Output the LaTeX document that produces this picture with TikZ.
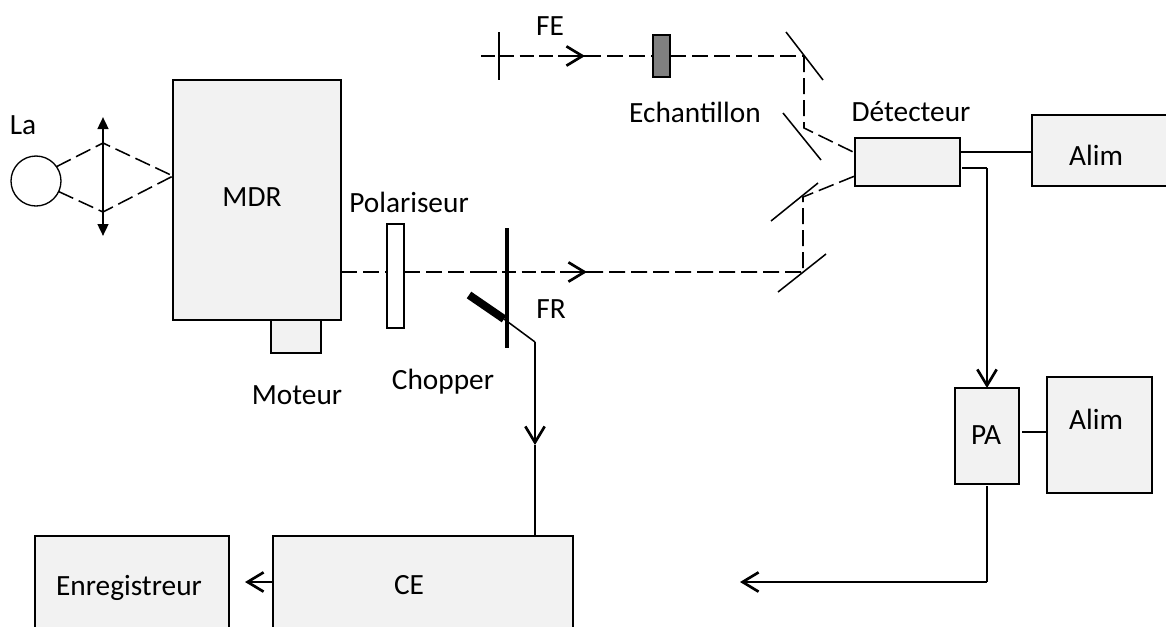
\documentclass[tikz,border=0pt]{standalone}
\usepackage{fontspec}
\setmainfont{Carlito}
\usetikzlibrary{arrows.meta,calc}
\definecolor{boxfill}{HTML}{F2F2F2}
\definecolor{samplefill}{HTML}{808080}
% \boxat[style]{name}{x1}{y1}{x2}{y2}
\newcommand{\boxat}[6][boxst]{%
  \pgfmathsetmacro{\bw}{(#5-#3)*0.75}\pgfmathsetmacro{\bh}{(#6-#4)*0.75}%
  \pgfmathsetmacro{\bx}{(#3+#5)/2}\pgfmathsetmacro{\by}{(#4+#6)/2}%
  \node[#1,minimum width=\bw pt,minimum height=\bh pt] (#2) at (\bx,\by) {};}
\tikzset{
  boxst/.style={draw=black,fill=boxfill,line width=1.1pt,inner sep=0pt,outer sep=0pt},
  whitebox/.style={boxst,fill=white},
  samplebox/.style={boxst,fill=samplefill},
  lab/.style={font=\fontsize{22}{24}\selectfont,inner sep=0pt,text=black},
  beam/.style={line width=1.15pt,dash pattern=on 12pt off 4.5pt},
  beamthick/.style={line width=1.9pt,dash pattern=on 10.5pt off 4pt},
  wire/.style={line width=1.15pt},
  wirethick/.style={line width=1.9pt},
  mirror/.style={line width=1.15pt},
  openarrow/.style={-{Straight Barb[length=12pt,width=14.5pt,line width=2pt]}},
}
\begin{document}
\begin{tikzpicture}[x=0.75pt,y=-0.75pt]
\clip (0,0) rectangle (1166,626);
\fill[white] (0,0) rectangle (1166,626);

% Beam points
\coordinate (focus) at (173,176);
\coordinate (lensT) at (103,143);
\coordinate (lensB) at (103,212);
\coordinate (lensTop) at (103,117);
\coordinate (lensBot) at (103,236);
\coordinate (feA) at (481,56);
\coordinate (feTip) at (585,56);
\coordinate (m1) at (804,56);
\coordinate (m2) at (804,128);
\coordinate (m3) at (803,197);
\coordinate (m4) at (803,272);
\coordinate (frA) at (483,272);
\coordinate (frTip) at (587,272);

% Boxes
\boxat{mdr}{173}{80}{341}{320}
\boxat{moteur}{271}{320}{321}{353}
\boxat[whitebox]{pol}{387}{224}{404}{328}
\boxat[samplebox]{ech}{653}{35}{670}{77}
\boxat{det}{855}{138}{960}{186}
\boxat{alimA}{1032}{115}{1175}{186}
\boxat{pa}{955}{388}{1019}{484}
\boxat{alimB}{1047}{377}{1152}{493}
\boxat{ce}{273}{536}{573}{650}
\boxat{enr}{35}{536}{229}{650}

\node[draw=black,fill=white,circle,line width=1pt,minimum size=37.5pt,inner sep=0pt,outer sep=0pt] (lamp) at (36,181) {};

% Lens
\draw[line width=1.8pt,{Triangle[length=9pt,width=8pt]}-{Triangle[length=9pt,width=8pt]}] (lensTop) -- (lensBot);
\draw[beam] (lamp.35) -- (lensT) -- (focus);
\draw[beam] (lamp.-25) -- (lensB) -- (focus);

% Sample beam
\draw[mirror] (499,32) coordinate (feTT) -- (499,80) coordinate (feTB);
\draw[beamthick] (feA) -- (feTip);
\draw[openarrow,line width=1.7pt] ($(feTip)+(-18,0)$) -- (feTip);
\draw[beam] (feTip) -- (ech.west);
\draw[beam] (ech.east) -- (m1);
\draw[mirror] (786,32) coordinate (mir1a) -- (823,80) coordinate (mir1b);
\draw[beam] (m1) -- (m2) -- ($(det.north west)!0.31!(det.south west)$);
\draw[mirror] (783,113) coordinate (mir2a) -- (821,160) coordinate (mir2b);

% Reference beam
\draw[beam] (mdr.east |- m4) -- (pol.west |- m4);
\draw[beam] (pol.east |- m4) -- (frA);
\draw[beamthick] (frA) -- (frTip);
\draw[openarrow,line width=1.7pt] ($(frTip)+(-18,0)$) -- (frTip);
\draw[beam] (frTip) -- (m4) -- (m3) -- ($(det.north west)!0.79!(det.south west)$);
\draw[mirror] (778,292) coordinate (mir4a) -- (826,254) coordinate (mir4b);
\draw[mirror] (771,221) coordinate (mir3a) -- (818,183) coordinate (mir3b);

% Chopper
\draw[line width=3.6pt] (507,228) coordinate (chT) -- (507,348) coordinate (chB);
\coordinate (blA) at (469,295);
\coordinate (blB) at (504,319);
\coordinate (elbow) at (535,342);
\coordinate (chMid) at (535,445);
\draw[line width=6pt] (blA) -- (blB);
\draw[wire] (blB) -- (elbow);
\draw[wirethick,openarrow] (elbow) -- (chMid);
\draw[wire] (chMid) -- (ce.north -| chMid);

% CE to recorder
\draw[wire,openarrow] (ce.west |- 0,582) -- (245,582);

% Detector and amplifier
\draw[wire] (det.east |- 0,152) -- (alimA.west |- 0,152);
\coordinate (detOut) at (987,168);
\draw[wire] (962,168) -- (detOut);
\draw[wirethick,openarrow] (detOut) -- (pa.north -| detOut);
\draw[wire] (1022,432) -- (alimB.west |- 0,432);
\coordinate (paDown) at (987,582);
\draw[wire] (987,486) -- (paDown);
\coordinate (outTip) at (740,582);
\draw[wirethick,openarrow] (paDown) -- (outTip);

% Labels
\node[lab] (tLa) at (23,125) {La};
\node[lab] (tMDR) at (252,197) {MDR};
\node[lab] (tPol) at (409,202) {Polariseur};
\node[lab] (tMot) at (297,395) {Moteur};
\node[lab] (tCho) at (443,382) {Chopper};
\node[lab] (tFR) at (551,309) {FR};
\node[lab] (tFE) at (550,26) {FE};
\node[lab] (tEch) at (695,112) {Echantillon};
\node[lab] (tDet) at (911,112) {Détecteur};
\node[lab] (tAlA) at (1096,155) {Alim};
\node[lab] (tAlB) at (1096,419) {Alim};
\node[lab] (tPA) at (986,435) {PA};
\node[lab] (tEnr) at (129,588) {Enregistreur};
\node[lab] (tCE) at (409,585) {CE};
\end{tikzpicture}
\end{document}
